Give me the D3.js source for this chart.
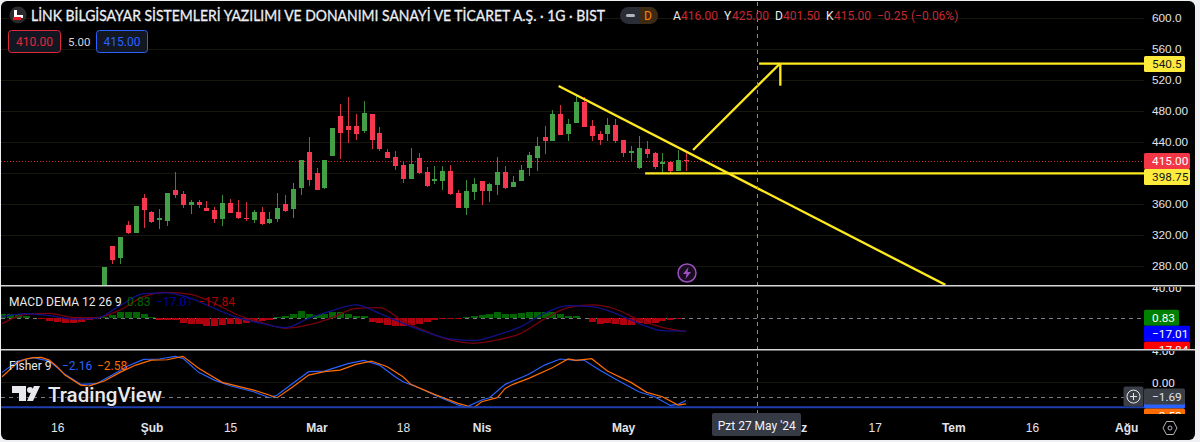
<!DOCTYPE html>
<html>
<head>
<meta charset="utf-8">
<script src="https://cdn.jsdelivr.net/npm/d3@7/dist/d3.min.js"></script>
<style>
  html, body { margin: 0; padding: 0; background: #eef0f3; overflow: hidden; }
  svg { display: block; font-family: Roboto, sans-serif; }
</style>
</head>
<body>
<div id="chart"></div>
<script>
// candles, bar number 0 is the first one visible above the macd pane
const opens  = [240,305.2,289.2,332.3,322.4,367.1,349,339.1,337,377.4,372.3,357.6,361.5,354.2,351.6,339.6,360.2,349,341.7,339.1,349,334.4,339.6,358.9,352.9,380,426,399.4,379.6,421.3,472.5,460,460,453.5,475.1,450.5,426,420,410.1,391.6,418.7,400.6,389.5,389,401.9,374,354.2,374.8,389,375.7,384.3,400.6,381.7,389,405.8,418.7,445.8,440.6,475,449.2,463.9,491,460,449.2,449.2,461.3,441.9,425.6,405.4,430.3,424.7,411.4,414,401.9,416];
const highs  = [278,305.2,316.3,337.8,356.8,372.3,350.3,352.5,373.5,400.6,375.7,364.5,364.5,363.6,355.5,371,365.8,364.5,361.9,351.6,355.5,349,373.5,371,386.4,416.1,445.8,405.4,416.1,457.8,488.4,497,475.5,492.3,475.5,458.7,430.3,427.7,414.8,431.2,425.2,406.7,408.4,408.4,409.7,377.4,390.3,392.9,389,386,420,408,395.5,410.1,426,445.8,460,480.6,487,469,498.7,497.4,467.7,453.5,470.3,469,441.9,434.2,447.1,440.6,426.4,424.7,414.8,429,425];
const lows   = [235,281.9,281.9,320.6,321.9,328.4,334.8,327.1,331,367.1,354.2,346.4,354.2,349.9,334.8,331,347.3,340,337.4,334.4,332.3,334,336.6,349,341.3,371,382.6,377,378.3,421,417.4,438.1,441.9,451.4,430.3,427.3,418.5,403.2,386.5,391.4,398.1,380.9,385.2,377.4,370.5,354,345.1,364.5,358.5,362,371,378.7,381.5,388.8,395.5,401.9,423.9,440.4,448.2,440.6,463.7,458.5,440.6,435.5,440.6,438.1,420,414.8,404.5,418.7,404.5,399.3,399.3,401.7,401.5];
const closes = [278,287.1,316.3,321.9,356.8,351.6,336.6,341.3,373.5,371,358,361.5,358,350.3,339.6,360.2,347.7,341.3,340,349,333.1,339.6,354.2,350.3,378.7,416.1,390.3,377.4,416.1,457.8,450.5,454.8,449.2,476.3,441.9,430.3,418.7,408.4,391.6,411,398.9,383,391.2,401.9,372.3,354.2,376.1,384.7,376.1,385.6,400.6,379.6,388.2,403.2,422.6,434.6,440.6,475,448.4,462.6,491,458.7,447.1,441.9,461.3,440.6,425.2,427.7,432,423.9,407.1,414,401.9,416.1,415];

const priceTicks = [600,560,520,480,440,400,360,320,280];
const priceTickLabels = ["600.0","560.0","520.0","480.00","440.00","400.00","360.00","320.00","280.00"];

// macd
const macdHist = [5.3,5.3,5.3,3.6,0.5,-1,-3.6,-5.3,-6.2,-6.2,-4.4,-2.7,-0.9,2.2,4.4,8,8,8,6.2,1.8,-2.7,-1.8,-2.7,-6.2,-7.1,-8,-9.8,-10.7,-8.9,-8,-7.1,-6.2,-4.4,-3.1,-1.8,1.8,2.7,5.3,9.8,6.2,4.4,6.2,8,8.9,6.2,3.6,2.7,-4.4,-6.2,-8.9,-10.7,-10.7,-8.9,-7.1,-5.3,-2.7,-1.3,-0.9,-0.9,1.3,3.6,4.4,6.2,8,6.2,6.2,7.1,8,8.9,8.9,8.9,5.3,3.6,3.6,0.4,-5.3,-8,-6.2,-7.1,-8.9,-8.9,-6.2,-7.1,-6.2,-3.6,-2.2,-0.9,0.83];
const macdHistStart = -13;
const macdBars = [-13,-10,-7,-4,-1,2,5,8,11,14,17,20,23,26,29,32,35,38,41,44,47,50,53,56,59,62,65,68,71,74];
const macdLine = [2.2,6.2,3.6,-0.9,0,16.9,32.9,33.8,26.6,13.3,0.9,-6.7,-12.4,0,10.2,17.8,6.7,-6.7,-18.6,-27.5,-29.7,-22.2,-11.1,6.7,16.9,15.5,6.7,-6.7,-16.4,-17.01];
const signalLine = [-7.1,5.3,6.7,1.3,0.9,11.1,28.9,34.6,32,20,4.4,-5.3,-13.3,-8.9,0.9,13.3,14.2,-3.6,-17.8,-28.9,-33.3,-28.9,-20,-0.9,14.2,17.8,12.4,-2.2,-12,-17.84];

// fisher
const fisherBars = [-13,-11,-9,-7,-5,-3,-1,1,3,5,7,9,10,12,14,16,19,21,22,24,26,28,31,33,35,37,38,40,42,45,46,48,49,51,54,56,58,60,61,63,65,68,70,72,73,74];
const fisherLine = [1.26,2.64,3.05,2.64,1.02,-0.2,-0.12,0.93,2.03,2.84,2.89,3.21,2.97,1.26,0.32,-0.37,-1.1,-1.83,-1.5,-0.08,1.34,1.42,2.32,2.72,2.15,0.73,0.12,-0.61,-1.5,-2.72,-3.01,-2.11,-1.83,-0.2,1.02,2.15,2.89,2.72,2.76,1.54,0.45,-1.1,-1.71,-2.77,-2.64,-2.16];
const triggerBars = [-13,-11,-10,-9,-8,-7,-6,-5,-3,-2,0,2,4,6,8,10,12,15,19,22,24,26,28,30,32,34,36,38,39,42,45,47,48,50,51,52,54,57,59,60,62,64,67,69,71,73,74];
const triggerLine = [0.73,2.48,2.89,3.05,3.09,2.76,1.95,0.93,-0.29,-0.41,0.2,1.26,2.15,2.76,2.8,3.21,1.75,0.04,-0.9,-1.83,-0.49,0.93,1.34,1.54,2.24,2.64,1.95,0.73,-0.2,-1.42,-2.52,-3.05,-2.32,-1.83,-0.69,-0.2,0.53,1.83,2.89,2.72,2.93,1.42,0.04,-1.18,-1.71,-2.72,-2.58];
const fisherBand = -3;

// drawings on the price pane: [bar, price]
const trendLine = [[57.8,511.6],[107,255]];
const arrowLine = [[74.9,429],[86,541]];
const arrowHeadH = [[83.3,540.5],[86,540.5]];
const arrowHeadV = [[86,540.5],[86,512]];
const levelTarget = 540.5;
const levelSupport = 398.75;
const levelSupportStart = 68.8;
const lastClose = 415;

// time axis
const timeBars = [-6,6,16,27,38,48,66,88,98,108,118,130];
const timeLabels = ["16","Şub","15","Mar","18","Nis","May","Haz","17","Tem","16","Ağu"];
const monthLabels = ["Şub","Mar","Nis","May","Haz","Tem","Ağu"];
const crossBar = 83;
const crossValue = -1.69;

const width = 1200, height = 442;
const plotRight = 1144;
const scaleFont = 11.8;

const x = d3.scaleLinear().domain([0, 74]).range([104.3, 686]);
const y = d3.scaleLinear().domain([280, 600]).range([265.5, 17.5]);
const yMacd = d3.scaleLinear().domain([-40, 40]).range([348.3, 288.3]);
const yFisher = d3.scaleLinear().domain([-3, 4]).range([407.3, 349.9]);

const svg = d3.select("#chart").append("svg")
  .attr("width", width)
  .attr("height", height);

svg.append("rect")
  .attr("x", 1).attr("y", 1)
  .attr("width", 1194).attr("height", 439)
  .attr("rx", 6)
  .attr("fill", "#000");

const defs = svg.append("defs");
function addClip(id, top, bottom, right) {
  defs.append("clipPath").attr("id", id).append("rect")
    .attr("x", 1).attr("y", top).attr("width", right - 1).attr("height", bottom - top);
}
addClip("clipPrice", 2, 285, plotRight);
addClip("clipMacd", 287, 349, plotRight);
addClip("clipFisher", 351, 414, plotRight);
addClip("clipMacdAxis", 287, 349, 1195);
addClip("clipFisherAxis", 351, 414, 1195);

// grid
const grid = svg.append("g").attr("stroke", "#17170e").attr("shape-rendering", "crispEdges");
grid.selectAll("line").data(priceTicks).enter().append("line")
  .attr("x1", 1).attr("x2", plotRight)
  .attr("y1", d => Math.round(y(d)) + 0.5).attr("y2", d => Math.round(y(d)) + 0.5);
grid.append("line")
  .attr("x1", 1).attr("x2", plotRight)
  .attr("y1", Math.round(yFisher(0)) - 0.5).attr("y2", Math.round(yFisher(0)) - 0.5);

// price pane
const price = svg.append("g").attr("clip-path", "url(#clipPrice)");

price.append("line")
  .attr("x1", 1).attr("x2", plotRight)
  .attr("y1", Math.round(y(lastClose)) + 0.5).attr("y2", Math.round(y(lastClose)) + 0.5)
  .attr("stroke", "#d8283c")
  .attr("stroke-dasharray", "1 2");

const candles = d3.range(opens.length);
const upColor = "#43a047", downColor = "#f7374f";
const candleColor = i => closes[i] >= opens[i] ? upColor : downColor;

price.append("g").selectAll("line").data(candles).enter().append("line")
  .attr("x1", i => Math.round(x(i)) + 0.5).attr("x2", i => Math.round(x(i)) + 0.5)
  .attr("y1", i => y(highs[i])).attr("y2", i => y(lows[i]))
  .attr("stroke", i => d3.color(candleColor(i)).darker(0.4))
  .attr("shape-rendering", "crispEdges");

price.append("g").selectAll("rect").data(candles).enter().append("rect")
  .attr("x", i => Math.round(x(i)) - 2)
  .attr("width", 5)
  .attr("y", i => y(Math.max(opens[i], closes[i])))
  .attr("height", i => Math.max(1, Math.abs(y(opens[i]) - y(closes[i]))))
  .attr("fill", candleColor)
  .attr("shape-rendering", "crispEdges");

const yellow = "#ffeb3b";
const priceLine = d3.line().x(d => x(d[0])).y(d => y(d[1]));
price.append("g")
  .attr("fill", "none")
  .attr("stroke", "#ffe91f")
  .attr("stroke-width", 2.3)
  .selectAll("path")
  .data([trendLine, arrowLine, arrowHeadH, arrowHeadV,
    [[levelSupportStart, levelSupport], [x.invert(plotRight), levelSupport]],
    [[arrowLine[1][0], levelTarget], [x.invert(plotRight), levelTarget]]])
  .enter().append("path")
  .attr("d", priceLine);

// macd pane
const macd = svg.append("g").attr("clip-path", "url(#clipMacd)");
macd.append("line")
  .attr("x1", 1).attr("x2", plotRight)
  .attr("y1", Math.round(yMacd(0)) + 0.5).attr("y2", Math.round(yMacd(0)) + 0.5)
  .attr("stroke", "#787b86")
  .attr("stroke-dasharray", "4 4");

macd.append("g").selectAll("rect").data(macdHist).enter().append("rect")
  .attr("x", (d, i) => Math.round(x(macdHistStart + i)) - 3)
  .attr("width", 7)
  .attr("y", d => yMacd(Math.max(d, 0)))
  .attr("height", d => Math.abs(yMacd(d) - yMacd(0)))
  .attr("fill", d => d >= 0 ? "#006400" : "#b0000d")
  .attr("shape-rendering", "crispEdges");

const macdPath = d3.line().x(d => x(d[0])).y(d => yMacd(d[1])).curve(d3.curveMonotoneX);
macd.append("path")
  .attr("d", macdPath(d3.zip(macdBars, signalLine)))
  .attr("fill", "none").attr("stroke", "#7a0010").attr("stroke-width", 1.3);
macd.append("path")
  .attr("d", macdPath(d3.zip(macdBars, macdLine)))
  .attr("fill", "none").attr("stroke", "#10108a").attr("stroke-width", 1.3);

// fisher pane
const fisher = svg.append("g").attr("clip-path", "url(#clipFisher)");
const fisherPath = d3.line().x(d => x(d[0])).y(d => yFisher(d[1]));
fisher.append("path")
  .attr("d", fisherPath(d3.zip(fisherBars, fisherLine)))
  .attr("fill", "none").attr("stroke", "#2962ff").attr("stroke-width", 1.2);
fisher.append("path")
  .attr("d", fisherPath(d3.zip(triggerBars, triggerLine)))
  .attr("fill", "none").attr("stroke", "#ff6d00").attr("stroke-width", 1.2);
svg.append("line")
  .attr("x1", 1).attr("x2", plotRight)
  .attr("y1", yFisher(fisherBand)).attr("y2", yFisher(fisherBand))
  .attr("stroke", "#1e3fb0").attr("stroke-width", 2);
svg.append("line")
  .attr("x1", 1).attr("x2", 1124)
  .attr("y1", Math.round(yFisher(crossValue)) + 0.5).attr("y2", Math.round(yFisher(crossValue)) + 0.5)
  .attr("stroke", "#787b86")
  .attr("stroke-dasharray", "4 4");

// crosshair
svg.append("line")
  .attr("x1", Math.round(x(crossBar)) + 0.5).attr("x2", Math.round(x(crossBar)) + 0.5)
  .attr("y1", 2).attr("y2", 414)
  .attr("stroke", "#8a8d96")
  .attr("stroke-dasharray", "4 4")
  .attr("shape-rendering", "crispEdges");

// pane separators
svg.append("g").attr("fill", "#d6d6d6").selectAll("rect").data([285, 349]).enter().append("rect")
  .attr("x", 1).attr("y", d => d).attr("width", 1194).attr("height", 1.5);

// price axis
const textColor = "#e0e3eb";
const priceAxis = svg.append("g")
  .attr("transform", `translate(${plotRight + 8},0)`)
  .call(d3.axisRight(y).tickValues(priceTicks).tickSize(0).tickPadding(0)
    .tickFormat((d, i) => priceTickLabels[i]));
priceAxis.select(".domain").remove();
priceAxis.selectAll("text")
  .attr("fill", textColor)
  .style("font-size", scaleFont + "px");

// stacked value tags on the scales
function valueTag(parent, cy, w, label, bg, fg) {
  const g = parent.append("g");
  g.append("rect")
    .attr("x", plotRight).attr("y", cy - 8)
    .attr("width", w).attr("height", 16)
    .attr("rx", 1.5)
    .attr("fill", bg);
  g.append("text")
    .attr("x", plotRight + 8).attr("y", cy + 4)
    .attr("fill", fg)
    .attr("font-size", scaleFont)
    .text(label);
}
valueTag(svg, y(lastClose), 46, "415.00", "#f23645", "#fff");
valueTag(svg, y(lastClose) + 16, 46, "398.75", yellow, "#131722");
valueTag(svg, y(levelTarget) + 0.5, 41, "540.5", yellow, "#131722");

const macdAxis = svg.append("g").attr("clip-path", "url(#clipMacdAxis)");
macdAxis.append("text")
  .attr("x", plotRight + 8).attr("y", yMacd(40) + 4)
  .attr("fill", textColor).attr("font-size", scaleFont)
  .text("40.00");
const tagMacd = yMacd(0.83);
valueTag(macdAxis, tagMacd, 35, "0.83", "#008000", "#fff");
valueTag(macdAxis, tagMacd + 16, 46, "−17.01", "#0000ff", "#fff");
valueTag(macdAxis, tagMacd + 32, 46, "−17.84", "#ff0000", "#fff");

const fisherAxis = svg.append("g").attr("clip-path", "url(#clipFisherAxis)");
fisherAxis.append("text")
  .attr("x", plotRight + 8).attr("y", yFisher(4) + 5)
  .attr("fill", textColor).attr("font-size", scaleFont)
  .text("4.00");
fisherAxis.append("text")
  .attr("x", plotRight + 8).attr("y", yFisher(0) + 4)
  .attr("fill", textColor).attr("font-size", scaleFont)
  .text("0.00");
const tagFisher = yFisher(-2.16);
valueTag(fisherAxis, tagFisher, 41, "−2.16", "#2962ff", "#fff");
valueTag(fisherAxis, tagFisher + 16, 41, "−2.58", "#ff6d00", "#fff");
valueTag(fisherAxis, yFisher(crossValue), 41, "−1.69", "#3a3e47", textColor);

// plus button
const plus = svg.append("g").attr("transform", `translate(1133.5,${yFisher(crossValue)})`);
plus.append("rect").attr("x", -10).attr("y", -10).attr("width", 20).attr("height", 20).attr("rx", 2).attr("fill", "#3a3e47");
plus.append("circle").attr("r", 6.5).attr("fill", "none").attr("stroke", "#e8e8e8");
plus.append("path").attr("d", "M-3.5,0H3.5M0,-3.5V3.5").attr("stroke", "#e8e8e8");

// time axis
const timeAxis = svg.append("g")
  .attr("transform", "translate(0,414)")
  .call(d3.axisBottom(x).tickValues(timeBars).tickSize(0).tickPadding(9)
    .tickFormat((d, i) => timeLabels[i]));
timeAxis.select(".domain").remove();
timeAxis.selectAll("text")
  .attr("fill", textColor)
  .style("font-size", "12px")
  .style("font-weight", (d, i) => monthLabels.includes(timeLabels[i]) ? 700 : 400);

// crosshair date
svg.append("rect")
  .attr("x", 712).attr("y", 413)
  .attr("width", 89).attr("height", 23)
  .attr("rx", 2)
  .attr("fill", "#363a45");
svg.append("text")
  .attr("x", x(crossBar)).attr("y", 430)
  .attr("text-anchor", "middle")
  .attr("fill", "#f0f3fa")
  .attr("font-size", 12)
  .text("Pzt 27 May '24");

// settings icon
const gear = svg.append("g").attr("transform", "translate(1170,428)")
  .attr("fill", "none").attr("stroke", "#b2b5be");
gear.append("path").attr("d", "M-3.5,-6.5H3.5L7,0L3.5,6.5H-3.5L-7,0Z");
gear.append("circle").attr("r", 2);

// legend
const legend = svg.append("g");
const logo = legend.append("g").attr("transform", "translate(18,15)");
logo.append("circle").attr("r", 8.5).attr("fill", "#2a2a2e");
logo.append("path").attr("d", "M-4,-5H-1V0H5V3H-4Z").attr("fill", "#fff");
logo.append("path").attr("d", "M-5,2H3V5H-5Z").attr("fill", "#e01b24");

legend.append("text")
  .attr("x", 31).attr("y", 21)
  .attr("fill", "#eceff5")
  .attr("stroke", "#eceff5")
  .attr("stroke-width", 0.3)
  .attr("font-family", "Lato, sans-serif")
  .attr("font-size", 16)
  .attr("textLength", 574)
  .attr("lengthAdjust", "spacingAndGlyphs")
  .text("LİNK BİLGİSAYAR SİSTEMLERİ YAZILIMI VE DONANIMI SANAYİ VE TİCARET A.Ş. · 1G · BIST");

legend.append("rect").attr("x", 620).attr("y", 7).attr("width", 38).attr("height", 17).attr("rx", 8.5).attr("fill", "#2a2d35");
legend.append("path").attr("d", "M639,7H649.5A8.5,8.5 0 0 1 649.5,24H639Z").attr("fill", "#3d2a14");
legend.append("rect").attr("x", 626).attr("y", 14).attr("width", 9).attr("height", 3).attr("rx", 1.5).attr("fill", "#b2b5be");
legend.append("text").attr("x", 644).attr("y", 20).attr("fill", "#ff8000").attr("font-size", 12).text("D");

const legendWhite = "#e8e8e8", legendRed = "#c62834";
const ohlcParts = [[673,"A",681,"416.00"],[724,"Y",732,"425.00"],[775,"D",783,"401.50"],[826,"K",834,"415.00"]];
const ohlc = legend.append("text").attr("y", 20).attr("font-size", 12);
ohlcParts.forEach(p => {
  ohlc.append("tspan").attr("x", p[0]).attr("fill", legendWhite).text(p[1]);
  ohlc.append("tspan").attr("x", p[2]).attr("fill", legendRed).text(p[3]);
});
ohlc.append("tspan").attr("x", 877).attr("fill", legendRed).text("−0.25");
ohlc.append("tspan").attr("x", 911).attr("fill", legendRed).text("(−0.06%)");

function orderBox(bx, w, label, col) {
  legend.append("rect").attr("x", bx + 0.5).attr("y", 30.5).attr("width", w).attr("height", 22).attr("rx", 3)
    .attr("fill", "#131722").attr("stroke", col);
  legend.append("text").attr("x", bx + 0.5 + w / 2).attr("y", 46).attr("text-anchor", "middle")
    .attr("fill", col).attr("font-size", 12).text(label);
}
orderBox(8, 52, "410.00", "#e0283c");
orderBox(96, 51, "415.00", "#2962ff");
legend.append("text").attr("x", 68).attr("y", 46).attr("fill", "#d1d4dc").attr("font-size", 11.5).text("5.00");

const macdTitle = legend.append("text").attr("x", 9).attr("y", 306).attr("font-size", 12);
macdTitle.append("tspan").attr("fill", legendWhite).text("MACD DEMA 12 26 9");
macdTitle.append("tspan").attr("x", 127).attr("fill", "#006400").text("0.83");
macdTitle.append("tspan").attr("x", 156).attr("fill", "#0000a0").text("−17.01");
macdTitle.append("tspan").attr("x", 198).attr("fill", "#b00000").text("−17.84");

const fisherTitle = legend.append("text").attr("x", 9).attr("y", 370).attr("font-size", 12);
fisherTitle.append("tspan").attr("fill", legendWhite).text("Fisher 9");
fisherTitle.append("tspan").attr("x", 62).attr("fill", "#2962ff").text("−2.16");
fisherTitle.append("tspan").attr("x", 97).attr("fill", "#ff6d00").text("−2.58");

// lightning mark
const bolt = svg.append("g").attr("transform", "translate(687,273)");
bolt.append("circle").attr("r", 9).attr("fill", "#1a0c1f").attr("stroke", "#9c4fc0").attr("stroke-width", 1.5);
bolt.append("path").attr("d", "M1.5,-6L-4,1H-0.5L-1.5,6L4,-1H0.5Z").attr("fill", "#9c4fc0");

// watermark
const mark = svg.append("g").attr("fill", "#e8e9ee");
mark.append("path").attr("d", "M12,386H26V401H19V393H12Z").attr("stroke", "#000").attr("stroke-opacity", 0.7).attr("stroke-width", 2).attr("paint-order", "stroke");
mark.append("circle").attr("cx", 30).attr("cy", 390).attr("r", 3);
mark.append("path").attr("d", "M27,401L34,386H40L33,401Z");
mark.append("text")
  .attr("x", 48).attr("y", 402)
  .attr("font-size", 20.5)
  .attr("font-weight", 500)
  .attr("textLength", 114)
  .attr("stroke", "#000").attr("stroke-opacity", 0.7).attr("stroke-width", 2).attr("paint-order", "stroke")
  .text("TradingView");
</script>
</body>
</html>
